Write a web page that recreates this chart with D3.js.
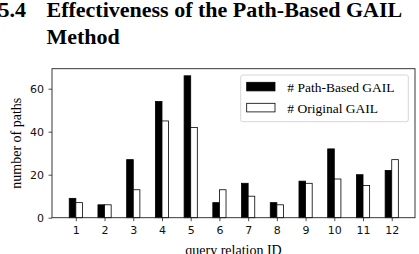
<!DOCTYPE html>
<html><head><meta charset="utf-8">
<script src="https://cdn.jsdelivr.net/npm/d3@7"></script>
<style>body{margin:0;background:#fff;overflow:hidden}svg{display:block}</style>
</head><body>
<script>
const categories = [1,2,3,4,5,6,7,8,9,10,11,12];
const pathBased = [9,6,27,54,66,7,16,7,17,32,20,22];
const original = [7,6,13,45,42,13,10,6,16,18,15,27];
const yTicks = [0,20,40,60];
const seriesNames = ["# Path-Based GAIL", "# Original GAIL"];

const W = 419, H = 254;
const svg = d3.select("body").append("svg").attr("width", W).attr("height", H);

// heading
const hf = (s) => s.attr("font-family", "Liberation Serif").attr("font-weight", "bold").attr("font-size", 22);
hf(svg.append("text").attr("x", -1.5).attr("y", 17)).text("5.4");
hf(svg.append("text").attr("x", 46.5).attr("y", 17)).text("Effectiveness of the Path-Based GAIL");
hf(svg.append("text").attr("x", 46.5).attr("y", 44)).text("Method");

const L = 52, R = 415, T = 68.7, B = 217.7;
const bw = 0.23;
const x = d3.scaleLinear().domain([0.17, 12.81]).range([L, R]);
const y = d3.scaleLinear().domain([0, 69.3]).range([B, T]);

const g = svg.append("g");
g.selectAll("rect.pb").data(categories).enter().append("rect")
  .attr("x", (d) => x(d - bw)).attr("width", (d) => x(d) - x(d - bw))
  .attr("y", (d, i) => y(pathBased[i])).attr("height", (d, i) => B - y(pathBased[i]))
  .attr("fill", "#000").attr("stroke", "#000").attr("stroke-width", 0.8);
g.selectAll("rect.og").data(categories).enter().append("rect")
  .attr("x", (d) => x(d)).attr("width", (d) => x(d + bw) - x(d))
  .attr("y", (d, i) => y(original[i])).attr("height", (d, i) => B - y(original[i]))
  .attr("fill", "#fff").attr("stroke", "#000").attr("stroke-width", 0.8);

// frame
svg.append("rect").attr("x", L).attr("y", T).attr("width", R - L).attr("height", B - T)
  .attr("fill", "none").attr("stroke", "#222").attr("stroke-width", 0.9);

const xa = svg.append("g").attr("transform", `translate(0,${B})`)
  .call(d3.axisBottom(x).tickValues(categories).tickSize(3.5).tickPadding(5.5).tickFormat(d3.format("d")));
const ya = svg.append("g").attr("transform", `translate(${L},0)`)
  .call(d3.axisLeft(y).tickValues(yTicks).tickSize(3.5).tickPadding(4.5));
[xa, ya].forEach(a => {
  a.select(".domain").remove();
  a.selectAll("line").attr("stroke", "#222").attr("stroke-width", 0.8);
  a.selectAll("text").attr("font-family", "DejaVu Sans").attr("font-size", 11).attr("fill", "#111");
});

svg.append("text").attr("x", (L + R) / 2).attr("y", 255).attr("text-anchor", "middle")
  .attr("font-family", "Liberation Serif").attr("font-size", 14).text("query relation ID");
svg.append("text").attr("transform", `translate(21,${(T + B) / 2}) rotate(-90)`).attr("text-anchor", "middle")
  .attr("font-family", "Liberation Serif").attr("font-size", 14).text("number of paths");

// legend
const lg = svg.append("g");
lg.append("rect").attr("x", 240.7).attr("y", 75).attr("width", 167.6).attr("height", 46.7).attr("rx", 2)
  .attr("fill", "#fff").attr("fill-opacity", 0.8).attr("stroke", "#ccc").attr("stroke-width", 0.8);
const fills = ["#000", "#fff"];
seriesNames.forEach((n, i) => {
  const yy = 82.3 + i * 21;
  lg.append("rect").attr("x", 246.7).attr("y", yy).attr("width", 28.3).attr("height", 8.6)
    .attr("fill", fills[i]).attr("stroke", "#000").attr("stroke-width", 0.8);
  lg.append("text").attr("x", 287.3).attr("y", yy + 9.8)
    .attr("font-family", "Liberation Serif").attr("font-size", 13.5).text(n);
});
</script>
</body></html>
